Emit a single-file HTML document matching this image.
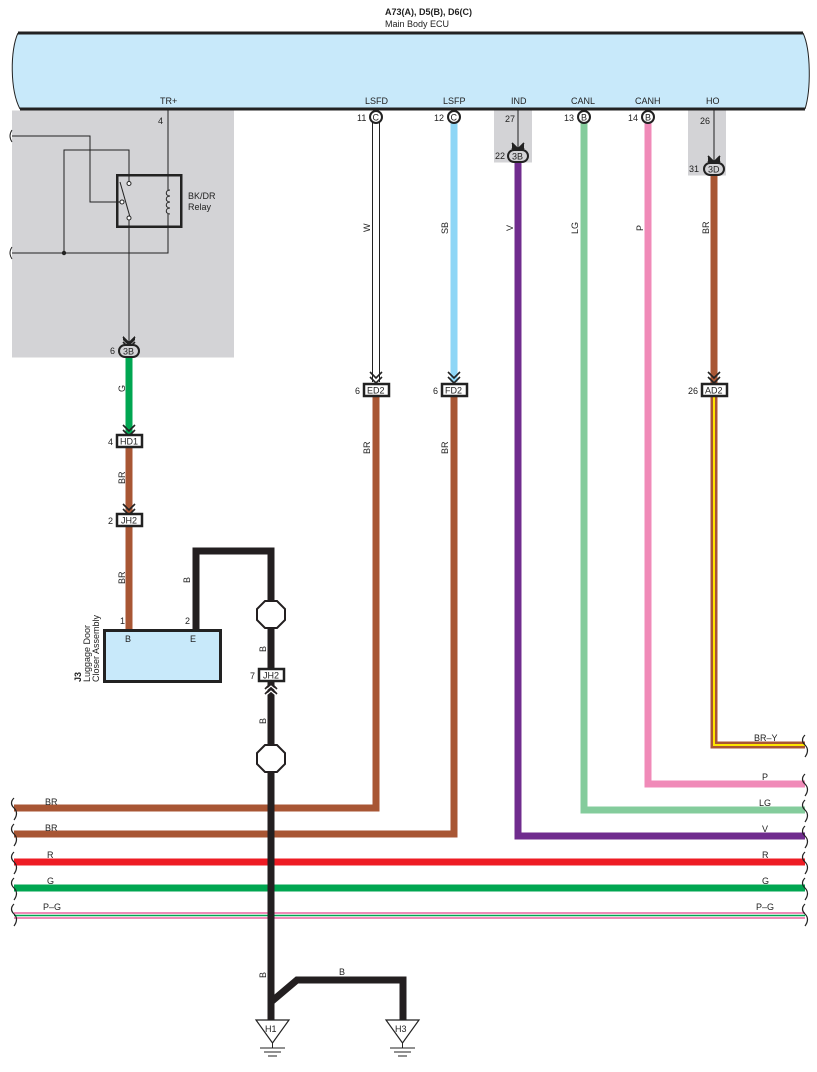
<!DOCTYPE html>
<html><head><meta charset="utf-8"><style>
html,body{margin:0;padding:0;background:#fff;}
svg{display:block;}
text{font-family:"Liberation Sans",sans-serif;font-size:9px;fill:#222;}
</style></head><body>
<svg width="817" height="1072" viewBox="0 0 817 1072" xmlns="http://www.w3.org/2000/svg">
<!-- title -->
<text x="385" y="15" font-weight="bold">A73(A), D5(B), D6(C)</text>
<text x="385" y="27">Main Body ECU</text>
<!-- ECU -->
<path d="M18,33 L803,33 C811,50 811,90 805,109 L20,109 C10,90 10,50 18,33 Z" fill="#c8e9fa"/>
<line x1="18" y1="33" x2="803" y2="33" stroke="#222" stroke-width="3"/>
<line x1="20" y1="109" x2="805" y2="109" stroke="#222" stroke-width="3"/>
<path d="M18,33 C10,50 10,90 20,109" fill="none" stroke="#222" stroke-width="1"/>
<path d="M803,33 C811,50 811,90 805,109" fill="none" stroke="#222" stroke-width="1"/>
<text x="160" y="104">TR+</text>
<text x="365" y="104">LSFD</text>
<text x="443" y="104">LSFP</text>
<text x="511" y="104">IND</text>
<text x="571" y="104">CANL</text>
<text x="635" y="104">CANH</text>
<text x="706" y="104">HO</text>

<!-- gray areas -->
<rect x="12" y="110.5" width="222" height="247" fill="#d3d3d6"/>
<rect x="494" y="110.5" width="38" height="52" fill="#d3d3d6"/>
<rect x="688" y="110.5" width="38" height="65" fill="#d3d3d6"/>

<!-- relay circuit -->
<g fill="none" stroke="#222" stroke-width="1">
<path d="M12,136 H90 V202 H120"/>
<path d="M64,253 V150 H129 V181"/>
<path d="M12,253 H168 V214"/>
<path d="M168,110 V190"/>
<path d="M129,220 V342"/>
<path d="M12,130 q-4,6 0,12" />
<path d="M12,247 q-4,6 0,12" />
<line x1="120" y1="182" x2="130" y2="217"/>
<path d="M170,190 c-5,0 -5,6 0,6 c-5,0 -5,6 0,6 c-5,0 -5,6 0,6 c-5,0 -5,6 0,6"/>
</g>
<rect x="117.25" y="175.25" width="64" height="51.5" fill="none" stroke="#222" stroke-width="2.5"/>
<circle cx="129" cy="183.5" r="2" fill="#fff" stroke="#222"/>
<circle cx="122" cy="202" r="2" fill="#fff" stroke="#222"/>
<circle cx="129" cy="218" r="2" fill="#fff" stroke="#222"/>
<circle cx="64" cy="253" r="2.2" fill="#222"/>
<text x="188" y="199">BK/DR</text>
<text x="188" y="210">Relay</text>
<text x="158" y="124">4</text>

<!-- wires vertical -->
<line x1="129" y1="357" x2="129" y2="434" stroke="#00a651" stroke-width="7"/>
<line x1="129" y1="448" x2="129" y2="629" stroke="#a85634" stroke-width="7"/>
<!-- LSFD hollow -->
<line x1="376" y1="122" x2="376" y2="382" stroke="#222" stroke-width="8"/>
<line x1="376" y1="122" x2="376" y2="382" stroke="#fff" stroke-width="6"/>
<path d="M376,397 V808 H14" fill="none" stroke="#a85634" stroke-width="7"/>
<line x1="454" y1="122" x2="454" y2="382" stroke="#8ed6f6" stroke-width="7"/>
<path d="M454,397 V834 H14" fill="none" stroke="#a85634" stroke-width="7"/>
<path d="M518,162 V836 H805" fill="none" stroke="#702c8e" stroke-width="7"/>
<path d="M584,122 V810 H805" fill="none" stroke="#84cc9c" stroke-width="7"/>
<path d="M648,122 V784 H805" fill="none" stroke="#f08ab8" stroke-width="7"/>
<line x1="714" y1="175" x2="714" y2="383" stroke="#a85634" stroke-width="7"/>
<path d="M714,397 V745 H805" fill="none" stroke="#a85634" stroke-width="7"/>
<path d="M714,397 V745 H805" fill="none" stroke="#ffe600" stroke-width="2"/>
<line x1="518" y1="110" x2="518" y2="150" stroke="#222"/>
<line x1="714" y1="110" x2="714" y2="163" stroke="#222"/>

<!-- horizontal lines -->
<line x1="14" y1="862" x2="805" y2="862" stroke="#ee1c24" stroke-width="7"/>
<line x1="14" y1="888" x2="805" y2="888" stroke="#00a651" stroke-width="7"/>
<line x1="14" y1="913" x2="805" y2="913" stroke="#f08ab8" stroke-width="2"/>
<line x1="14" y1="915.5" x2="805" y2="915.5" stroke="#00a651" stroke-width="1.5"/>
<line x1="14" y1="918" x2="805" y2="918" stroke="#f08ab8" stroke-width="2"/>

<!-- curly breaks -->
<g fill="none" stroke="#222" stroke-width="1.2">
<path d="M14,798 q-5,5 0,10 q5,5 0,12"/>
<path d="M14,824 q-5,5 0,10 q5,5 0,12"/>
<path d="M14,852 q-5,5 0,10 q5,5 0,12"/>
<path d="M14,878 q-5,5 0,10 q5,5 0,12"/>
<path d="M14,904 q-5,5 0,10 q5,5 0,12"/>
<path d="M805,735 q-5,5 0,10 q5,5 0,12"/>
<path d="M805,774 q-5,5 0,10 q5,5 0,12"/>
<path d="M805,800 q-5,5 0,10 q5,5 0,12"/>
<path d="M805,826 q-5,5 0,10 q5,5 0,12"/>
<path d="M805,852 q-5,5 0,10 q5,5 0,12"/>
<path d="M805,878 q-5,5 0,10 q5,5 0,12"/>
<path d="M805,904 q-5,5 0,10 q5,5 0,12"/>
</g>
<text x="45" y="805">BR</text>
<text x="45" y="831">BR</text>
<text x="47" y="858">R</text>
<text x="47" y="884">G</text>
<text x="43" y="910">P–G</text>
<text x="754" y="741">BR–Y</text>
<text x="762" y="780">P</text>
<text x="759" y="806">LG</text>
<text x="762" y="832">V</text>
<text x="762" y="858">R</text>
<text x="762" y="884">G</text>
<text x="756" y="910">P–G</text>

<!-- black ground wire -->
<path d="M196,629 V551 H271 V1020" fill="none" stroke="#231f20" stroke-width="7"/>
<path d="M271,1002 L297,980 H403 V1020" fill="none" stroke="#231f20" stroke-width="7"/>
<polygon points="265,601 277,601 285,609 285,620 277,628 265,628 257,620 257,609" fill="#fff" stroke="#231f20" stroke-width="2"/>
<polygon points="265,745 277,745 285,753 285,764 277,772 265,772 257,764 257,753" fill="#fff" stroke="#231f20" stroke-width="2"/>
<path d="M264,692 L271,686 L278,692 M264,697 L271,691 L278,697" fill="none" stroke="#fff" stroke-width="1.2"/>
<!-- grounds -->
<polygon points="256,1020 289,1020 272.5,1043" fill="#fff" stroke="#222" stroke-width="1.2"/>
<polygon points="386,1020 419,1020 402.5,1043" fill="#fff" stroke="#222" stroke-width="1.2"/>
<text x="265" y="1032">H1</text>
<text x="395" y="1032">H3</text>
<g stroke="#222" stroke-width="1"><path d="M272.5,1043 V1048 M260,1048 H285 M264,1052 H281 M268,1056 H277"/><path d="M402.5,1043 V1048 M390,1048 H415 M394,1052 H411 M398,1056 H407"/></g>

<!-- J3 -->
<rect x="104.5" y="630.5" width="116" height="51" fill="#c8e9fa" stroke="#222" stroke-width="3"/>
<text x="120" y="624">1</text><text x="185" y="624">2</text>
<text x="125" y="642">B</text><text x="190" y="642">E</text>
<g transform="rotate(-90)">
<text x="-682" y="81" font-weight="bold">J3</text>
<text x="-682" y="90">Luggage Door</text>
<text x="-682" y="99">Closer Assembly</text>
</g>

<!-- rotated wire labels -->
<g font-size="9">
<text transform="translate(125,392) rotate(-90)">G</text>
<text transform="translate(125,484) rotate(-90)">BR</text>
<text transform="translate(125,584) rotate(-90)">BR</text>
<text transform="translate(190,583) rotate(-90)">B</text>
<text transform="translate(266,652) rotate(-90)">B</text>
<text transform="translate(266,724) rotate(-90)">B</text>
<text transform="translate(266,978) rotate(-90)">B</text>
<text x="339" y="975">B</text>
<text transform="translate(370,232) rotate(-90)">W</text>
<text transform="translate(448,234) rotate(-90)">SB</text>
<text transform="translate(513,231) rotate(-90)">V</text>
<text transform="translate(578,234) rotate(-90)">LG</text>
<text transform="translate(643,231) rotate(-90)">P</text>
<text transform="translate(709,234) rotate(-90)">BR</text>
<text transform="translate(370,454) rotate(-90)">BR</text>
<text transform="translate(448,454) rotate(-90)">BR</text>
</g>

<!-- arrows (chevrons pointing down) -->
<g fill="none" stroke="#222" stroke-width="1.6">
<path d="M123,373 m0,-36 l6,6 l6,-6 M123,342 l6,6 l6,-6"/>
<path d="M123,425 l6,6 l6,-6 M123,430 l6,6 l6,-6"/>
<path d="M123,504 l6,6 l6,-6 M123,509 l6,6 l6,-6"/>
<path d="M370,372 l6,6 l6,-6 M370,377 l6,6 l6,-6"/>
<path d="M448,372 l6,6 l6,-6 M448,377 l6,6 l6,-6"/>
<path d="M708,372 l6,6 l6,-6 M708,377 l6,6 l6,-6"/>
<path d="M512,143 l6,6 l6,-6 M512,148 l6,6 l6,-6"/>
<path d="M708,156 l6,6 l6,-6 M708,161 l6,6 l6,-6"/>
<path d="M265,689 l6,-6 l6,6 M265,694 l6,-6 l6,6" stroke="#231f20"/>
</g>
<polygon points="123,336 129,342 135,336 135,340 129,346 123,340" fill="#222"/>
<polygon points="512,143 518,149 524,143 524,148 518,154 512,148" fill="#222"/>
<polygon points="708,156 714,162 720,156 720,161 714,167 708,161" fill="#222"/>

<!-- connector ovals / circles -->
<g stroke="#222" stroke-width="2" fill="#fff">
<rect x="119" y="345" width="20" height="12" rx="6" fill="#d3d3d6"/>
<rect x="508" y="150" width="20" height="12" rx="6" fill="#d3d3d6"/>
<rect x="704" y="163" width="20" height="12" rx="6" fill="#d3d3d6"/>
<circle cx="376" cy="117" r="6"/>
<circle cx="454" cy="117" r="6"/>
<circle cx="584" cy="117" r="6"/>
<circle cx="648" cy="117" r="6"/>
</g>
<text x="123" y="354.5" font-size="8">3B</text>
<text x="512" y="159.5" font-size="8">3B</text>
<text x="708" y="172.5" font-size="8">3D</text>
<text x="372.5" y="120.5" font-size="8">C</text>
<text x="450.5" y="120.5" font-size="8">C</text>
<text x="581" y="120.5" font-size="8">B</text>
<text x="645" y="120.5" font-size="8">B</text>
<text x="110" y="354">6</text>
<text x="495" y="159">22</text>
<text x="689" y="172">31</text>
<text x="357" y="121">11</text>
<text x="434" y="121">12</text>
<text x="564" y="121">13</text>
<text x="628" y="121">14</text>
<text x="505" y="122">27</text>
<text x="700" y="124">26</text>

<!-- box connectors -->
<g stroke="#222" stroke-width="2.5" fill="#fff">
<rect x="117" y="435" width="25" height="12"/>
<rect x="117" y="514" width="25" height="12"/>
<rect x="364" y="384" width="25" height="12"/>
<rect x="442" y="384" width="25" height="12"/>
<rect x="702" y="384" width="25" height="12"/>
<rect x="259" y="669" width="25" height="12"/>
</g>
<text x="120" y="444.5">HD1</text>
<text x="121" y="523.5">JH2</text>
<text x="367" y="393.5">ED2</text>
<text x="445" y="393.5">FD2</text>
<text x="705" y="393.5">AD2</text>
<text x="263" y="678.5">JH2</text>
<text x="108" y="445">4</text>
<text x="108" y="524">2</text>
<text x="355" y="394">6</text>
<text x="433" y="394">6</text>
<text x="688" y="394">26</text>
<text x="250" y="679">7</text>
</svg>
</body></html>
